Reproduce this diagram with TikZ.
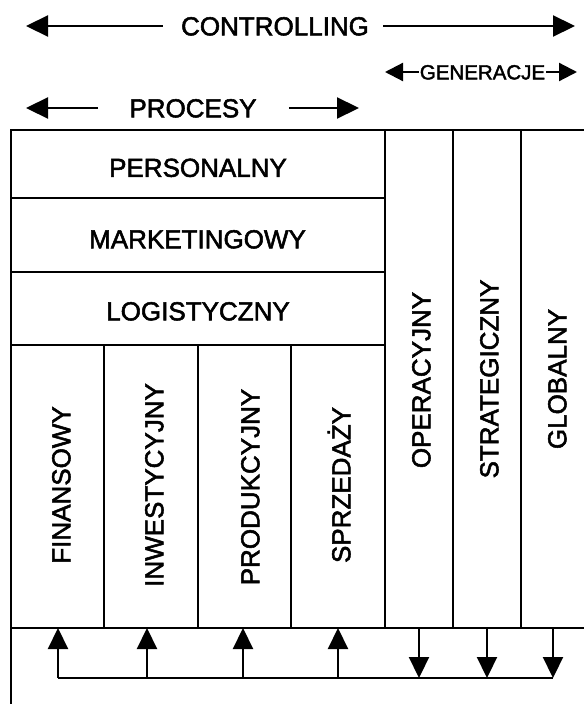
\documentclass[tikz,border=0pt]{standalone}
\usepackage{fontspec}
\setmainfont[FakeBold=2]{Liberation Sans}
\usetikzlibrary{arrows.meta}
\begin{document}
\begin{tikzpicture}[x=1pt,y=-1pt,
  grid/.style={line width=2.2pt},
  lbl/.style={inner sep=0pt,text height=18.6pt,text depth=0pt,font=\fontsize{26}{30}\selectfont},
  vlbl/.style={lbl,rotate=90},
  small/.style={inner sep=0pt,text height=14.8pt,text depth=0pt,font=\fontsize{20.5}{24}\selectfont},
  bigarr/.style={line width=2.2pt,-{Triangle[length=22pt,width=21pt]}},
  midarr/.style={line width=2.2pt,-{Triangle[length=18pt,width=18pt]}},
  flow/.style={line width=2.2pt,-{Triangle[length=21pt,width=20pt]}},
  link/.style={line width=2.2pt}]
\useasboundingbox (0,0) rectangle (584,704);
% header labels
\node[lbl] (ctl) at (275,26) {CONTROLLING};
\coordinate (ctlL) at (26,26);
\coordinate (ctlR) at (575,26);
\draw[bigarr,shorten <=18pt] (ctl.west) -- (ctlL);
\draw[bigarr,shorten <=14pt] (ctl.east) -- (ctlR);
\node[small] (gen) at (482.5,72) {GENERACJE};
\coordinate (genL) at (385,72);
\coordinate (genR) at (577,72);
\draw[midarr,shorten <=1pt] (gen.west) -- (genL);
\draw[midarr,shorten <=1pt] (gen.east) -- (genR);
\node[lbl] (proc) at (193,108) {PROCESY};
\coordinate (procL) at (26,108);
\coordinate (procR) at (359,108);
\draw[bigarr,shorten <=31pt] (proc.west) -- (procL);
\draw[bigarr,shorten <=32pt] (proc.east) -- (procR);
% grid
\draw[grid] (11,704) -- (11,130) -- (584,130);
\draw[grid] (11,198) -- (385,198);
\draw[grid] (11,272) -- (385,272);
\draw[grid] (11,345) -- (385,345);
\draw[grid] (11,628) -- (584,628);
\draw[grid] (385,130) -- (385,628);
\draw[grid] (453,130) -- (453,628);
\draw[grid] (521,130) -- (521,628);
\draw[grid] (104,345) -- (104,628);
\draw[grid] (198,345) -- (198,628);
\draw[grid] (291,345) -- (291,628);
% cell labels
\node[lbl] (pers) at (198,167.5) {PERSONALNY};
\node[lbl] (mark) at (197.5,239) {MARKETINGOWY};
\node[lbl] (logi) at (198,311) {LOGISTYCZNY};
\node[vlbl] (fin) at (61,485) {FINANSOWY};
\node[vlbl] (inw) at (154,485) {INWESTYCYJNY};
\node[vlbl] (prod) at (250,487) {PRODUKCYJNY};
\node[vlbl] (sprz) at (341,485) {SPRZEDAŻY};
\node[vlbl] (oper) at (421,380) {OPERACYJNY};
\node[vlbl] (strat) at (489,379) {STRATEGICZNY};
\node[vlbl] (glob) at (557,379) {GLOBALNY};
% flow arrows
\foreach \i/\x in {1/58,2/147,3/243,4/338,5/419,6/487,7/553}{
  \coordinate (t\i) at (\x,628);
  \coordinate (b\i) at (\x,678);
}
\draw[link] (b1) -- (b7);
\foreach \i in {1,2,3,4}{\draw[flow] (b\i) -- (t\i);}
\foreach \i in {5,6,7}{\draw[flow] (t\i) -- (b\i);}
\end{tikzpicture}
\end{document}
